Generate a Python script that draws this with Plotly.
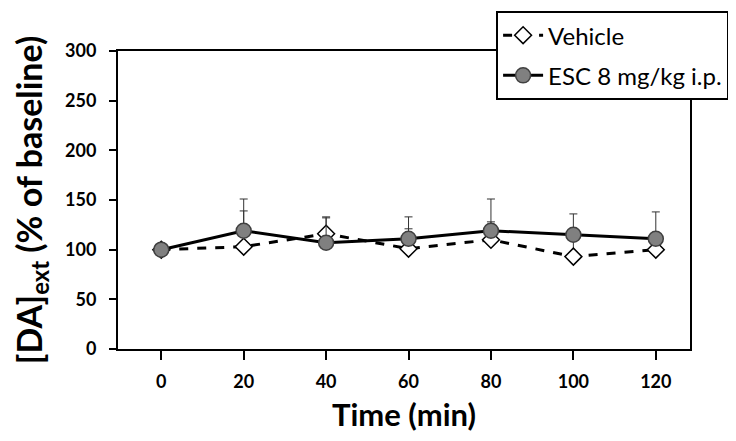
import plotly.graph_objects as go

time_min = [0, 20, 40, 60, 80, 100, 120]
vehicle = [100, 103, 116, 101, 110, 93, 100]
vehicle_err = [0, 36, 16, 20, 18, 22, 10]
esc = [100, 119, 107, 111, 119, 115, 111]
esc_err = [0, 32, 26, 22, 32, 21, 27]
x_ticks = [0, 20, 40, 60, 80, 100, 120]
y_ticks = [0, 50, 100, 150, 200, 250, 300]

font_name = "Lato"

fig = go.Figure()
fig.add_trace(go.Scatter(
    x=time_min, y=vehicle, name="Vehicle", mode="lines+markers", legendgroup="a",
    line=dict(color="black", width=3, dash="dash"),
    marker=dict(symbol="diamond", size=13, color="white", line=dict(color="black", width=1.5)),
    error_y=dict(type="data", array=vehicle_err, arrayminus=[0] * 7, symmetric=False,
                 color="#333333", thickness=1, width=4),
))
fig.add_trace(go.Scatter(
    x=time_min, y=esc, name="ESC 8 mg/kg i.p.", mode="lines+markers", legendgroup="b",
    line=dict(color="black", width=3),
    marker=dict(symbol="circle", size=15, color="#808080", line=dict(color="#404040", width=1.5)),
    error_y=dict(type="data", array=esc_err, arrayminus=[0] * 7, symmetric=False,
                 color="#333333", thickness=1, width=4),
))

fig.update_layout(
    width=736, height=441,
    margin=dict(l=110, r=54, t=43, b=100, autoexpand=False),
    plot_bgcolor="white", paper_bgcolor="white",
    font=dict(family=font_name, color="black"),
    showlegend=True,
    legend=dict(x=0.661, y=1.134, xanchor="left", yanchor="top",
                bgcolor="white", bordercolor="black", borderwidth=2,
                font=dict(size=24, family=font_name), tracegroupgap=6,
                itemwidth=40),
    xaxis=dict(range=[-10.5, 128.3], tickvals=x_ticks, ticks="outside", ticklen=9,
               tickwidth=2, tickcolor="black", showgrid=False, zeroline=False,
               showline=True, linecolor="black", linewidth=2, mirror=True,
               ticklabelstandoff=6, automargin=False,
               tickfont=dict(size=18, family=font_name, weight="bold"),
               title=dict(text="<b>Time (min)</b>", font=dict(size=31, family=font_name),
                          standoff=14)),
    yaxis=dict(range=[0, 300], tickvals=y_ticks, ticks="outside", ticklen=7,
               tickwidth=2, tickcolor="black", showgrid=False, zeroline=False,
               showline=True, linecolor="black", linewidth=2, mirror=True,
               ticklabelstandoff=9, automargin=False,
               tickfont=dict(size=18, family=font_name, weight="bold"),
               title=dict(text="<b>[DA]<sub>ext</sub> (% of baseline)</b>",
                          font=dict(size=34, family=font_name), standoff=12)),
)

fig.write_html("out.html")
